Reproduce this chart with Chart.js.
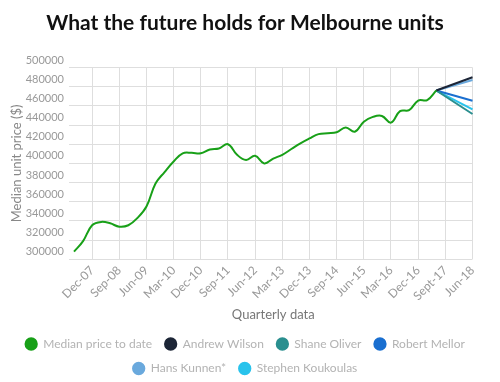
<!DOCTYPE html>
<html><head><meta charset="utf-8">
<script src="https://cdn.jsdelivr.net/npm/chart.js@4.4.0/dist/chart.umd.min.js"></script>
<style>html,body{margin:0;padding:0;background:#fff}</style>
</head><body>
<canvas id="c" width="500" height="382"></canvas>
<script>
const quarters = [
  'Jun-07','Sep-07','Dec-07','Mar-08','Jun-08','Sep-08','Dec-08','Mar-09','Jun-09','Sep-09',
  'Dec-09','Mar-10','Jun-10','Sep-10','Dec-10','Mar-11','Jun-11','Sep-11','Dec-11','Mar-12',
  'Jun-12','Sep-12','Dec-12','Mar-13','Jun-13','Sep-13','Dec-13','Mar-14','Jun-14','Sep-14',
  'Dec-14','Mar-15','Jun-15','Sep-15','Dec-15','Mar-16','Jun-16','Sep-16','Dec-16','Mar-17',
  'Jun-17','Sept-17','Dec-17','Mar-18','Jun-18'
];
const tickLabels = ['Dec-07','Sep-08','Jun-09','Mar-10','Dec-10','Sep-11','Jun-12','Mar-13',
  'Dec-13','Sep-14','Jun-15','Mar-16','Dec-16','Sept-17','Jun-18'];
const medianPrice = [
  308000,319000,335500,339000,337500,334000,335500,343000,355000,379000,
  391000,402000,410500,411000,410500,414500,415500,420000,409000,403500,
  408000,400000,405000,409000,415000,421000,426000,430500,431500,432500,
  437500,433000,443500,448500,449500,442500,454500,455500,465500,466000,
  476000
];
const forecasters = ['Andrew Wilson','Shane Oliver','Robert Mellor','Hans Kunnen*','Stephen Koukoulas'];
const forecastFrom = 'Jun-17';
const forecastTo = 'Jun-18';
const forecastStart = [476000,476000,476000,476000,476000];
const forecastEnd = [489800,451500,465400,487000,456400];
const forecastColors = ['#1c2536','#2a8f8f','#1a6fd0','#6aa9dd','#29c3ec'];
const medianColor = '#18a018';

const datasets = [{
  label: 'Median price to date',
  data: medianPrice,
  borderColor: medianColor,
  backgroundColor: medianColor,
  borderWidth: 2,
  pointRadius: 0,
  tension: 0.4,
  fill: false
}];
forecasters.forEach((name, k) => {
  datasets.push({
    label: name,
    data: [{x: forecastFrom, y: forecastStart[k]}, {x: forecastTo, y: forecastEnd[k]}],
    borderColor: forecastColors[k],
    backgroundColor: forecastColors[k],
    borderWidth: 2,
    pointRadius: 0,
    tension: 0,
    fill: false
  });
});

const FONT = 'Lato';
new Chart(document.getElementById('c'), {
  type: 'line',
  data: { labels: quarters, datasets },
  options: {
    responsive: false,
    devicePixelRatio: 1,
    animation: false,
    layout: { padding: { left: 0, right: 10, top: 0, bottom: -2.5 } },
    plugins: {
      title: {
        display: true,
        text: 'What the future holds for Melbourne units',
        color: '#111',
        font: { family: FONT, size: 21, weight: 'bold' },
        padding: { top: 10.9, bottom: 31.4 }
      },
      legend: {
        position: 'bottom',
        labels: {
          usePointStyle: true, pointStyle: 'circle',
          boxWidth: 12, boxHeight: 8, padding: 12.5,
          color: '#b3b3b3',
          font: { family: FONT, size: 12 }
        }
      },
      tooltip: { enabled: false }
    },
    scales: {
      x: {
        afterFit: s => { s.height = 66.2; },
        grid: { color: '#dedede', drawTicks: false },
        border: { display: false },
        ticks: {
          autoSkip: false, maxRotation: 45, minRotation: 45,
          color: '#999', font: { family: FONT, size: 12 }, padding: 4,
          callback: function(v, i) { const l = quarters[i]; return tickLabels.includes(l) ? l : null; }
        },
        title: { display: true, text: 'Quarterly data', color: '#777', font: { family: FONT, size: 13 }, padding: { top: 2, bottom: 2.7 } }
      },
      y: {
        min: 300000, max: 500000,
        afterFit: s => { s.width = 74; },
        grid: { color: '#dedede', tickLength: 5 },
        border: { display: false },
        ticks: {
          stepSize: 20000, color: '#999', font: { family: FONT, size: 11 },
          labelOffset: -7.5, padding: 5,
          callback: v => String(v)
        },
        title: { display: true, text: 'Median unit price ($)', color: '#888', font: { family: FONT, size: 13 }, padding: { top: 9.2, bottom: 2 } }
      },
      yR: {
        type: 'linear', position: 'right', display: true,
        afterFit: s => { s.width = 17.5; },
        grid: { display: false }, border: { display: false },
        ticks: { display: false }
      }
    }
  }
});
</script>
</body></html>
